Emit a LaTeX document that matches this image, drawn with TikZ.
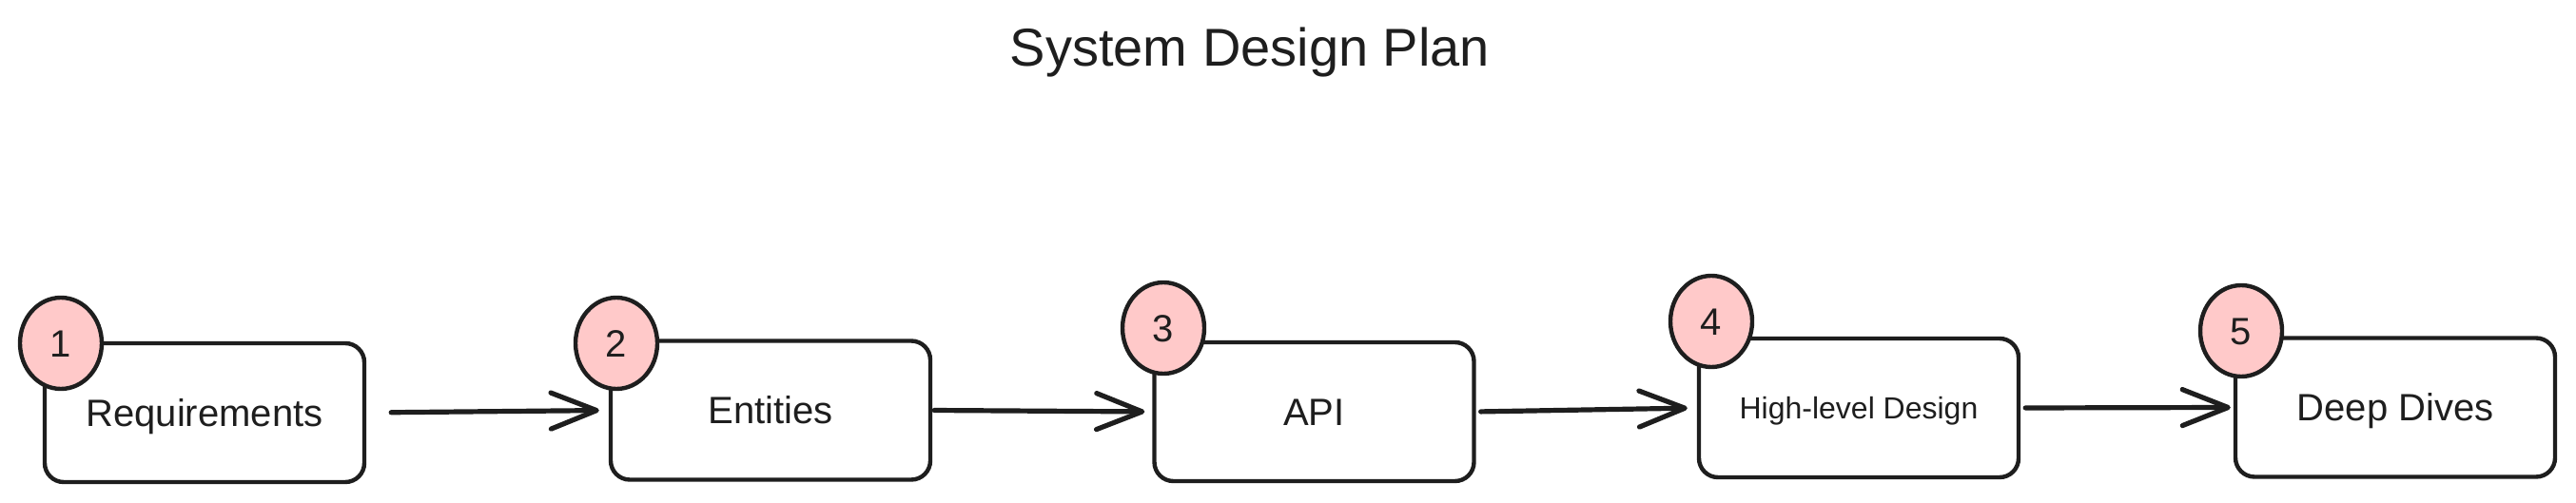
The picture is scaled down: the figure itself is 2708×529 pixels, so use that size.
\documentclass[tikz,border=0pt]{standalone}
\usepackage{fontspec}
\setmainfont{Liberation Sans}
\usetikzlibrary{shapes.geometric,arrows.meta}
\definecolor{ink}{HTML}{1E1E1E}
\definecolor{badge}{HTML}{FFC9C9}
\begin{document}
\begin{tikzpicture}[x=0.5pt,y=-0.5pt,
  stepbox/.style={draw=ink, line width=2.2pt, rounded corners=10pt,
    minimum width=168pt, minimum height=73pt, inner sep=0pt, fill=white,
    text=ink, font=\fontsize{20pt}{24pt}\selectfont, text height=14.3pt, text depth=0pt},
  numbadge/.style={ellipse, draw=ink, fill=badge, line width=2.2pt,
    minimum width=43pt, minimum height=48pt, inner sep=0pt,
    text=ink, font=\fontsize{20pt}{24pt}\selectfont, text height=14.3pt, text depth=0pt},
  flow/.style={draw=ink, line width=2.6pt, line cap=round,
    -{Straight Barb[length=24pt,width=19pt,line cap=round,line join=round]}}
]
\useasboundingbox (0,0) rectangle (2708,529);
\node[anchor=base, text=ink, font=\fontsize{28pt}{34pt}\selectfont, inner sep=0pt] (title) at (1314,70) {System Design Plan};

\node[stepbox] (b1) at (215,434) {Requirements};
\node[stepbox] (b2) at (810,431.5) {Entities};
\node[stepbox] (b3) at (1381.5,433) {API};
\node[stepbox, font=\fontsize{16pt}{19pt}\selectfont, text height=11.5pt] (b4) at (1954,429) {High-level Design};
\node[stepbox] (b5) at (2518,428.5) {Deep Dives};

\node[numbadge] (n1) at (64,361) {1};
\node[numbadge] (n2) at (648,361) {2};
\node[numbadge] (n3) at (1223,345) {3};
\node[numbadge] (n4) at (1799,338) {4};
\node[numbadge] (n5) at (2356,348) {5};

\draw[flow, shorten <=13pt, shorten >=5pt] (b1.east) -- (b2.west);
\draw[flow, shorten <=1pt, shorten >=4pt] (b2.east) -- (b3.west);
\draw[flow, shorten <=2.5pt, shorten >=5pt] (b3.east) -- (b4.west);
\draw[flow, shorten <=2.5pt, shorten >=1.5pt] (b4.east) -- (b5.west);
\end{tikzpicture}
\end{document}
